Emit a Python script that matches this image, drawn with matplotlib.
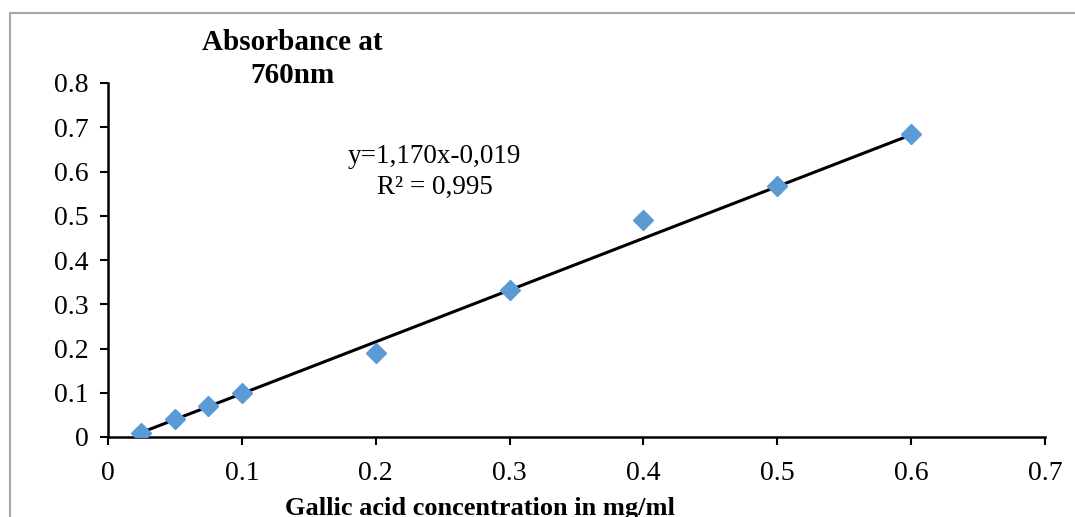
import matplotlib
matplotlib.use("Agg")
import matplotlib.pyplot as plt
from matplotlib.patches import Rectangle
import numpy as np

plt.rcParams["font.family"] = ["Liberation Serif", "DejaVu Serif"]

# Gallic acid calibration standards
conc = [0.025, 0.05, 0.075, 0.1, 0.2, 0.3, 0.4, 0.5, 0.6]
absorbance = [0.010, 0.040, 0.070, 0.100, 0.190, 0.333, 0.490, 0.567, 0.684]

# Linear fit reported on the chart
slope, intercept = 1.170, -0.019
r_squared = 0.995

x_ticks = [0, 0.1, 0.2, 0.3, 0.4, 0.5, 0.6, 0.7]
y_ticks = [0, 0.1, 0.2, 0.3, 0.4, 0.5, 0.6, 0.7, 0.8]

W, H = 1075, 517
fig = plt.figure(figsize=(W / 100, H / 100), dpi=100)
ax = fig.add_axes([108 / W, 1 - 437 / H, (1045 - 108) / W, (437 - 83) / H])

# outer chart-area border
fig.patches.append(Rectangle((10 / W, -0.1), 1.2, 1 - 13 / H + 0.1,
                             transform=fig.transFigure, fill=False,
                             edgecolor="#a6a6a6", linewidth=1.5))

fit_x = np.array([conc[0], conc[-1]])
ax.plot(fit_x, np.polyval([slope, intercept], fit_x), color="black", lw=2.2, zorder=2)
ax.plot(conc, absorbance, linestyle="none", marker="D", markersize=10,
        color="#5b9bd5", zorder=3)

ax.set_xlim(0, 0.7)
ax.set_ylim(0, 0.8)
ax.set_xticks(x_ticks)
ax.set_yticks(y_ticks)
ax.set_xticklabels(["0" if v == 0 else f"{v:g}" for v in x_ticks])
ax.set_yticklabels(["0" if v == 0 else f"{v:g}" for v in y_ticks])
ax.tick_params(direction="out", length=6, width=1.5, labelsize=20, pad=8)
ax.tick_params(axis="x", pad=11)

for side in ("top", "right"):
    ax.spines[side].set_visible(False)
for side in ("left", "bottom"):
    ax.spines[side].set_linewidth(1.8)

ax.text(0.244, 0.633, f"y={slope:.3f}x-{abs(intercept):.3f}".replace(".", ","),
        ha="center", va="center", fontsize=19.5)
ax.text(0.244, 0.565, f"R² = {r_squared:.3f}".replace(".", ","),
        ha="center", va="center", fontsize=19.5)

fig.text(292 / W, 1 - 59 / H, "Absorbance at\n760nm", ha="center", va="center",
         fontsize=21, fontweight="bold", linespacing=1.3)
fig.text(480 / W, 1 - 508 / H, "Gallic acid concentration in mg/ml",
         ha="center", va="center", fontsize=19, fontweight="bold")

fig.savefig("out.png", dpi=100)
